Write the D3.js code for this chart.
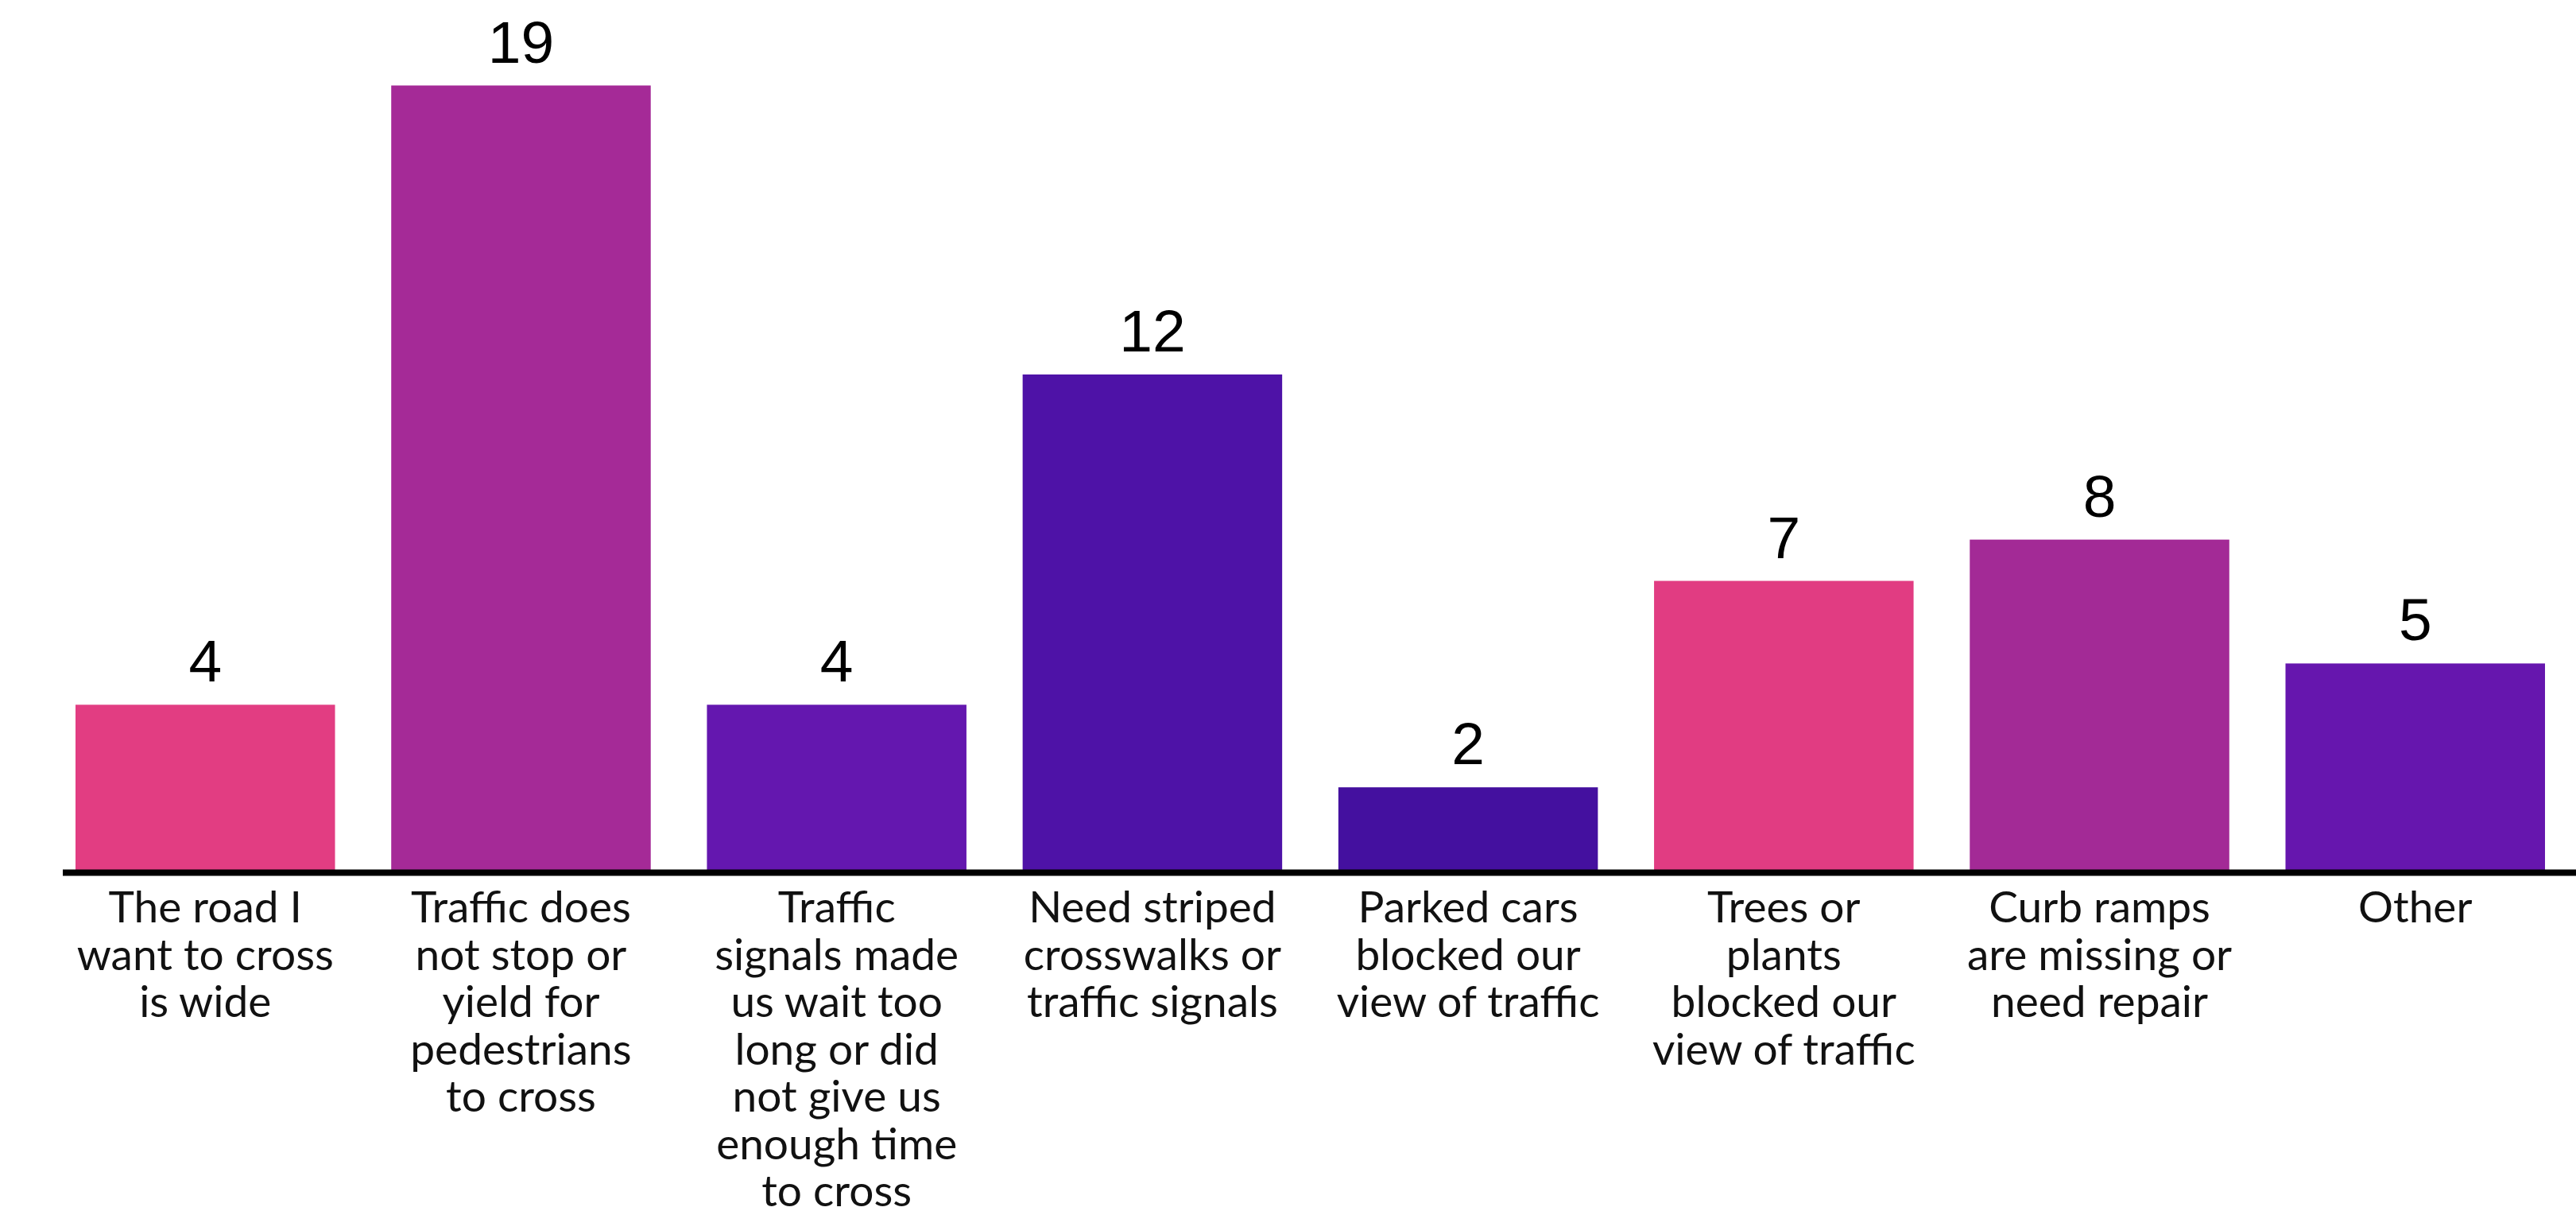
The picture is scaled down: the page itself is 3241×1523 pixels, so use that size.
<!DOCTYPE html>
<html><head><meta charset="utf-8">
<script src="https://cdn.jsdelivr.net/npm/d3@7"></script>
<style>html,body{margin:0;padding:0;background:#fff;overflow:hidden}</style>
</head><body>
<svg id="chart" width="3241" height="1523"></svg>
<script>
const categories = [
  ["The road I","want to cross","is wide"],
  ["Traffic does","not stop or","yield for","pedestrians","to cross"],
  ["Traffic","signals made","us wait too","long or did","not give us","enough time","to cross"],
  ["Need striped","crosswalks or","traffic signals"],
  ["Parked cars","blocked our","view of traffic"],
  ["Trees or","plants","blocked our","view of traffic"],
  ["Curb ramps","are missing or","need repair"],
  ["Other"]
];
const values = [4, 19, 4, 12, 2, 7, 8, 5];
const colors = ["#E23D82","#A52A97","#6417AF","#4E12A7","#44109F","#E13C82","#A32A96","#6616AE"];

const svg = d3.select("#chart");
const ids = d3.range(values.length);
const x = d3.scaleBand().domain(ids).range([95, 3202]).paddingInner(0.178).paddingOuter(0);
const y = d3.scaleLinear().domain([0, 19]).range([1094, 107.5]);

svg.selectAll("rect.bar").data(ids).join("rect")
  .attr("class","bar")
  .attr("x", i => x(i)).attr("width", x.bandwidth())
  .attr("y", i => y(values[i])).attr("height", i => y(0) - y(values[i]))
  .attr("fill", i => colors[i]);

svg.append("line").attr("x1", 79).attr("x2", 3241).attr("y1", y(0)+3.5).attr("y2", y(0)+3.5)
  .attr("stroke", "#000").attr("stroke-width", 8);

svg.selectAll("text.val").data(ids).join("text")
  .attr("class","val")
  .attr("x", i => x(i) + x.bandwidth()/2).attr("y", i => y(values[i]) - 29)
  .attr("text-anchor","middle")
  .attr("font-family","'Liberation Sans', Arial, sans-serif")
  .attr("font-size", 75).attr("fill","#000")
  .text(i => values[i]);

const lab = svg.selectAll("text.cat").data(ids).join("text")
  .attr("class","cat")
  .attr("text-anchor","middle")
  .attr("font-family","Lato, sans-serif")
  .attr("font-size", 55).attr("fill","#111");
lab.each(function(i){
  const t = d3.select(this);
  categories[i].forEach((line, k) => {
    t.append("tspan").attr("x", x(i) + x.bandwidth()/2).attr("y", 1160 + k*59.5).text(line);
  });
});
</script>
</body></html>
